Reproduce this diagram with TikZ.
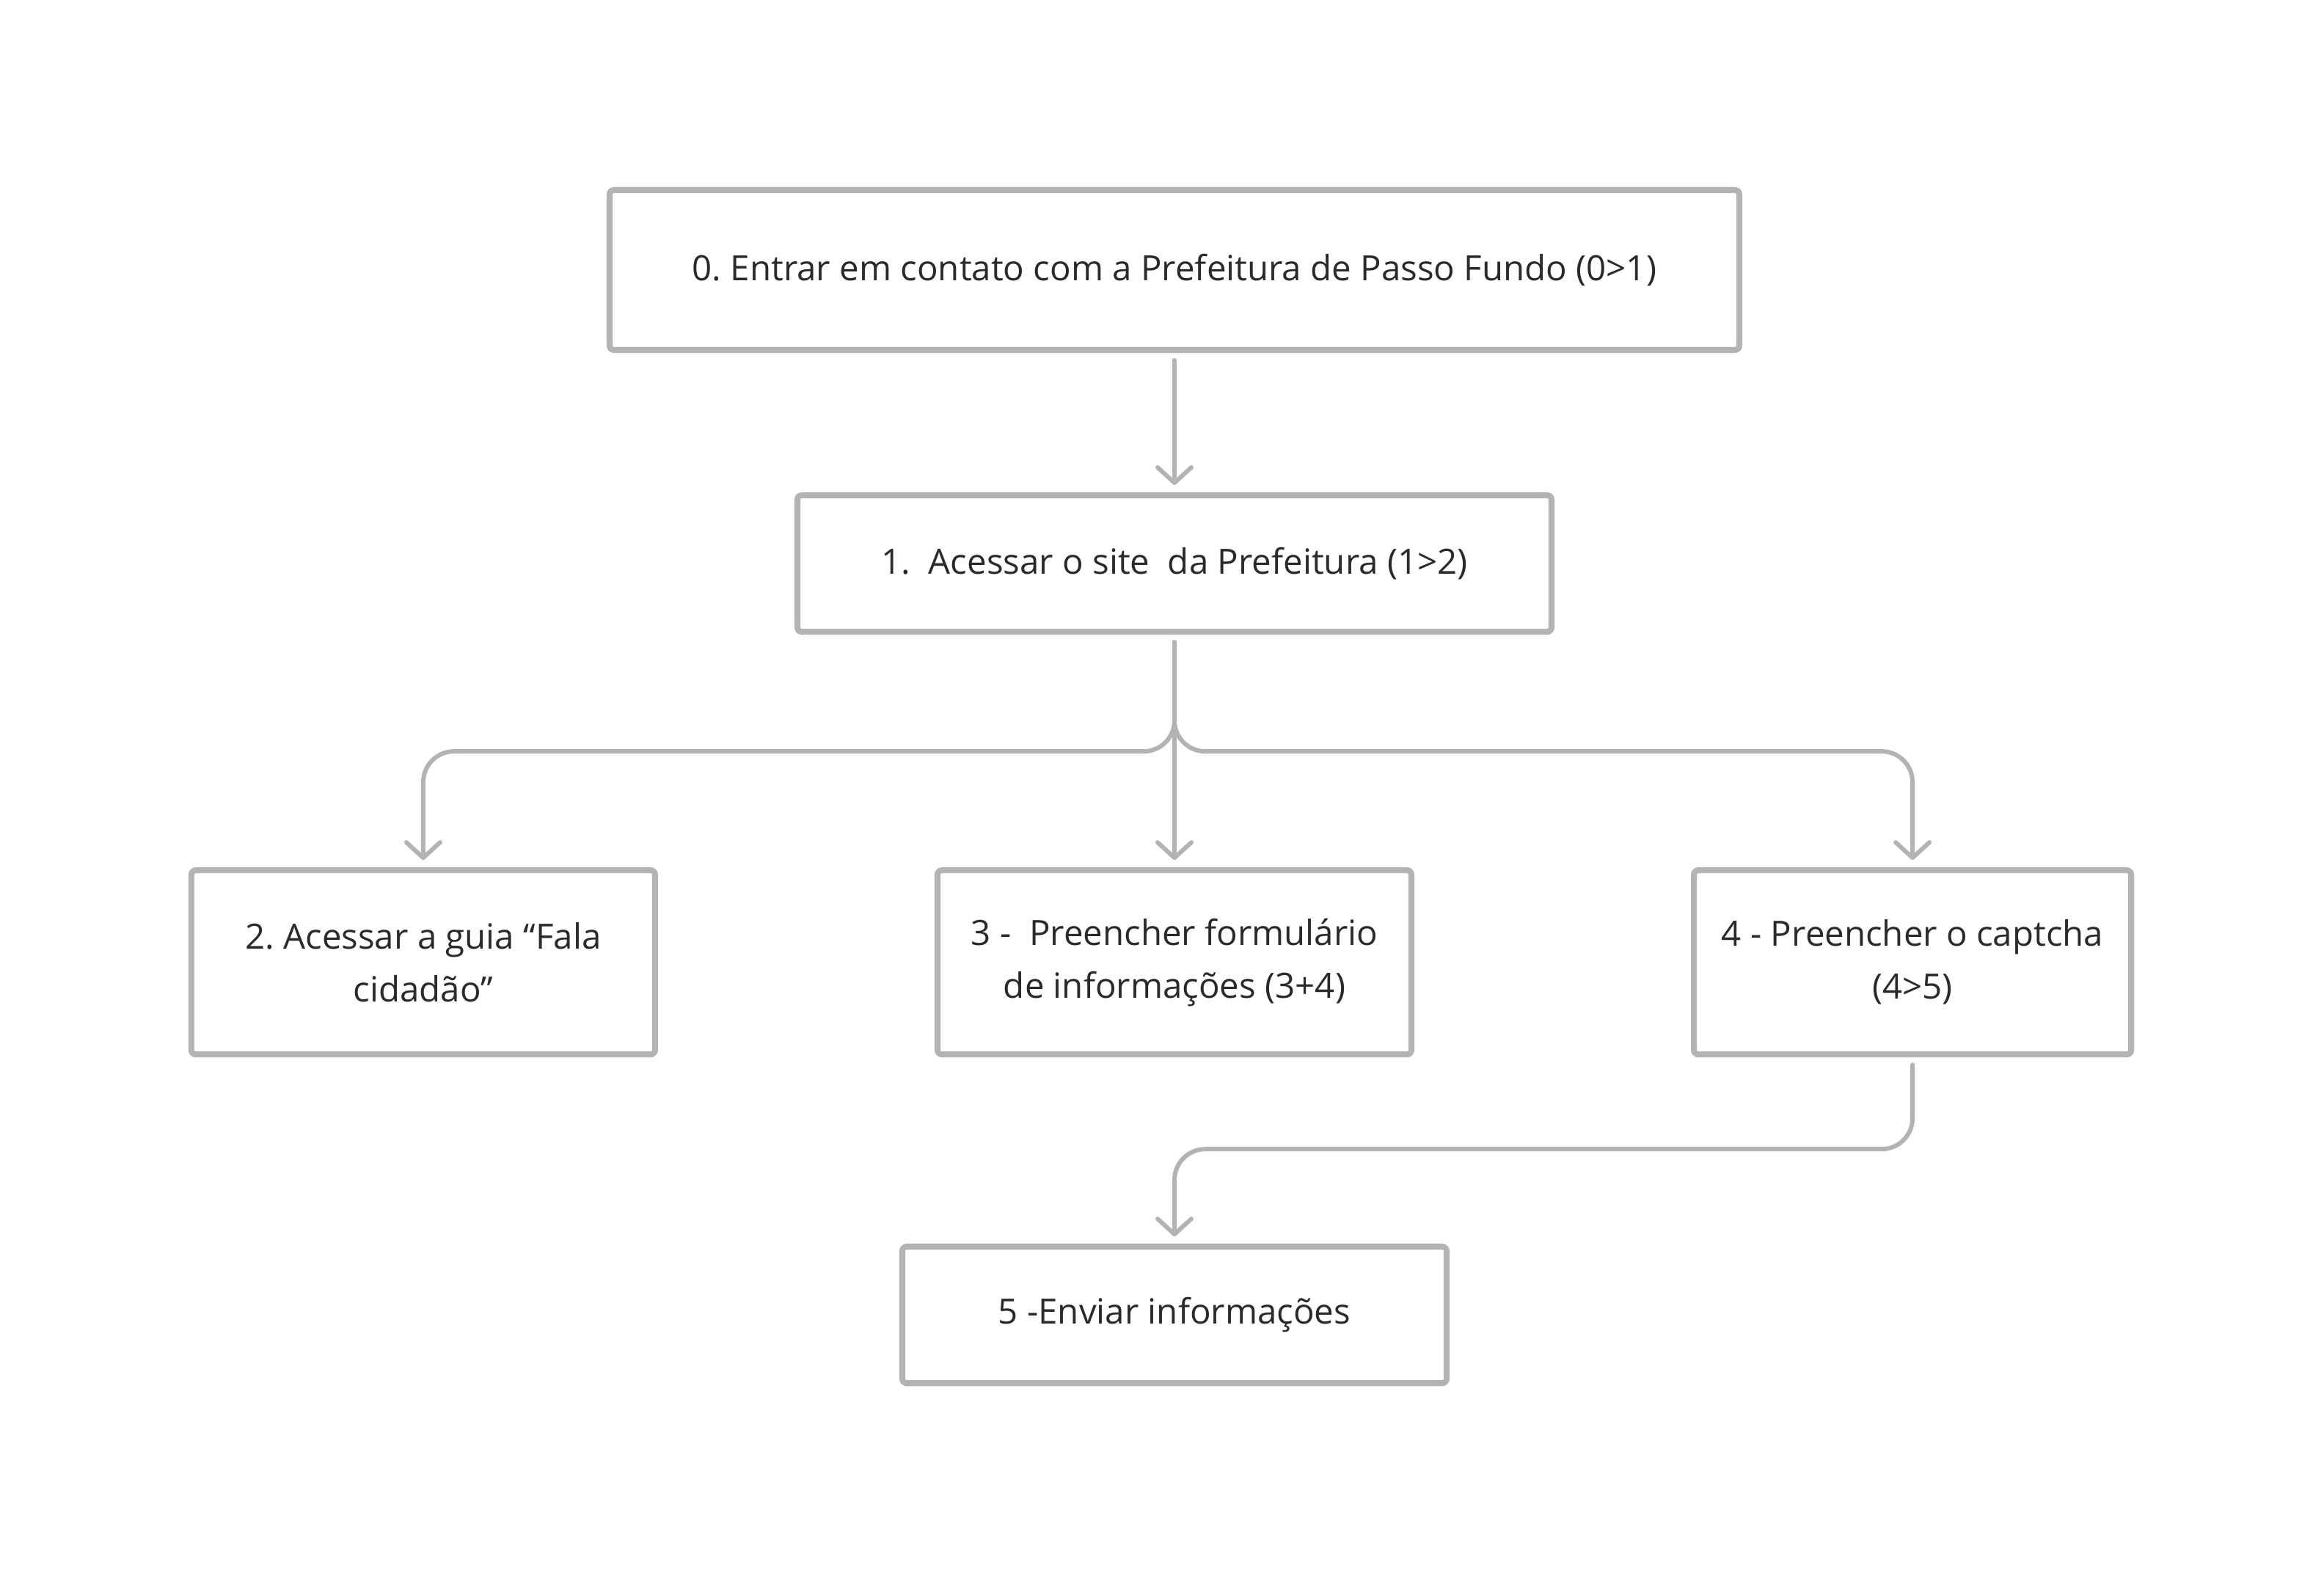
\documentclass[tikz,border=0pt]{standalone}
\usepackage{fontspec}
\setmainfont{Open Sans}
\usetikzlibrary{arrows.meta,positioning}
\definecolor{linegray}{HTML}{B3B3B3}
\definecolor{textgray}{HTML}{2A2A2A}
\frenchspacing

\begin{document}
\begin{tikzpicture}[>={Straight Barb[length=0.21cm,width=0.46cm,round]},
        shorten >=0.1cm,shorten <=0.1cm,node distance=2cm,
        main node/.style={rectangle,draw=linegray,line width=2.3pt,rounded corners=0.06cm,
          inner sep=0pt,minimum height=1.86cm,align=center,text=textgray,
          font=\fontsize{13.5}{20.5}\selectfont},
        link/.style={->,draw=linegray,line width=1.7pt,line cap=round,rounded corners=0.42cm}]
        \useasboundingbox (0,0) rectangle (31.68,-21.44);
        \node[main node,minimum width=15.40cm,minimum height=2.18cm] (0) at (16.01,-3.68)
          {0. Entrar em contato com a Prefeitura de Passo Fundo (0>1)};
        \node[main node,minimum width=10.28cm] (1) [below=1.90cm of 0]
          {1.\ \ Acessar o site\ \ da Prefeitura (1>2)};
        \node[main node,minimum width=6.46cm,minimum height=2.51cm] (3) [below=3.17cm of 1]
          {3 -\ \ Preencher formulário\\de informações (3+4)};
        \node[main node,minimum width=6.32cm,minimum height=2.51cm] (2) [left=3.77cm of 3]
          {2. Acessar a guia “Fala\\cidadão”};
        \node[main node,minimum width=5.96cm,minimum height=2.51cm] (4) [right=3.77cm of 3]
          {4 - Preencher o captcha\\(4>5)};
        \node[main node,minimum width=7.42cm] (5) [below=2.54cm of 3]
          {5 -Enviar informações};
        \coordinate (j) at ([yshift=-1.59cm]1.south);
        \coordinate (k) at ([yshift=-1.25cm]4.south);
        \path[link]
        (0) edge (1)
        (1) edge (3);
        \draw[link] (1.south) -- (j) -| (2.north);
        \draw[link] (1.south) -- (j) -| (4.north);
        \draw[link] (4.south) -- (k) -| (5.north);
        \end{tikzpicture}
\end{document}
